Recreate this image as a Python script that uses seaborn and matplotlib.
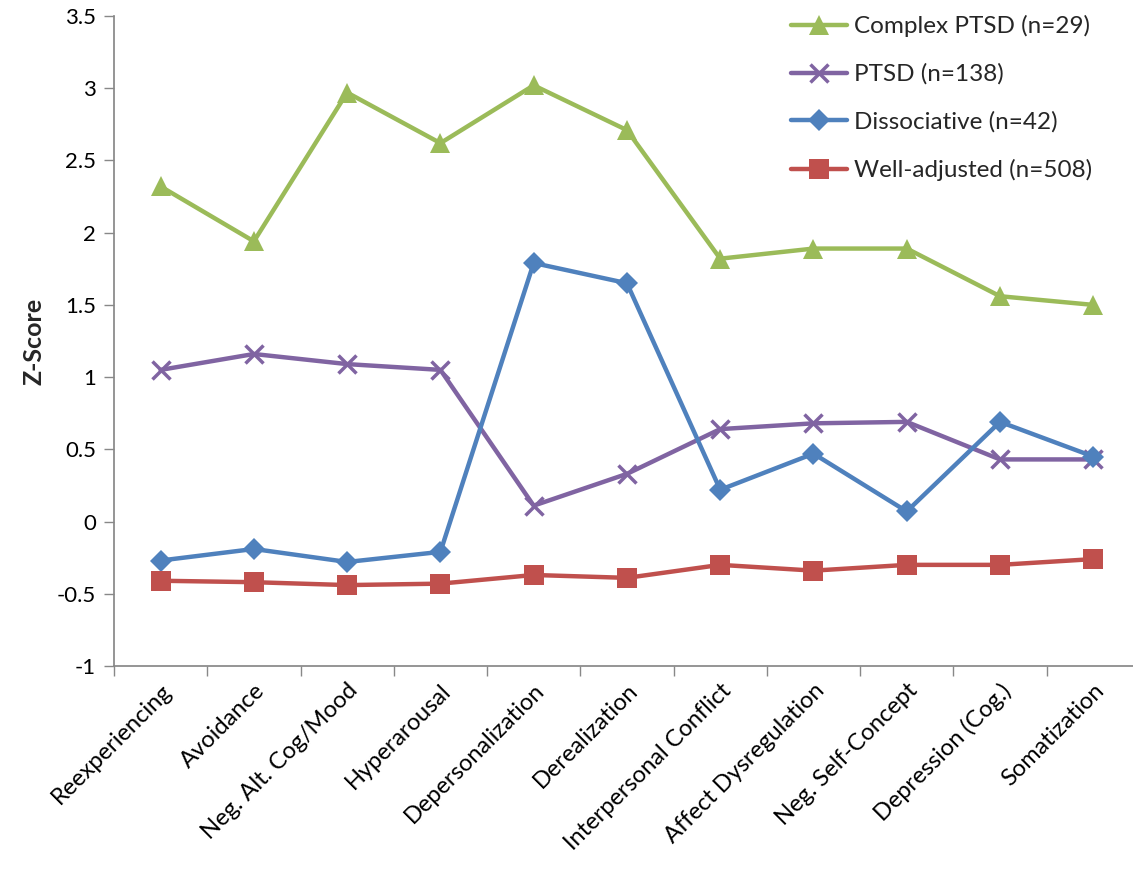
import pandas as pd
import matplotlib
matplotlib.use('Agg')
import matplotlib.pyplot as plt
import seaborn as sns

categories = ['Reexperiencing', 'Avoidance', 'Neg. Alt. Cog/Mood', 'Hyperarousal',
              'Depersonalization', 'Derealization', 'Interpersonal Conflict',
              'Affect Dysregulation', 'Neg. Self-Concept', 'Depression (Cog.)',
              'Somatization']

complex_ptsd = [2.32, 1.94, 2.97, 2.62, 3.02, 2.71, 1.82, 1.89, 1.89, 1.56, 1.50]
ptsd = [1.05, 1.16, 1.09, 1.05, 0.11, 0.33, 0.64, 0.68, 0.69, 0.43, 0.43]
dissociative = [-0.27, -0.19, -0.28, -0.21, 1.79, 1.65, 0.22, 0.47, 0.07, 0.69, 0.45]
well_adjusted = [-0.41, -0.42, -0.44, -0.43, -0.37, -0.39, -0.30, -0.34, -0.30, -0.30, -0.26]

series_names = ['Complex PTSD (n=29)', 'PTSD (n=138)', 'Dissociative (n=42)', 'Well-adjusted (n=508)']
series_values = [complex_ptsd, ptsd, dissociative, well_adjusted]

rows = []
for name, vals in zip(series_names, series_values):
    for i, v in enumerate(vals):
        rows.append({'pos': i, 'Group': name, 'Z-Score': v})
df = pd.DataFrame(rows)

sns.set_theme(style='white')
plt.rcParams['font.family'] = ['Lato', 'DejaVu Sans']

palette = {'Complex PTSD (n=29)': '#9BBB59',
           'PTSD (n=138)': '#8064A2',
           'Dissociative (n=42)': '#4F81BD',
           'Well-adjusted (n=508)': '#C0504D'}
markers = {'Complex PTSD (n=29)': '^',
           'PTSD (n=138)': 'x',
           'Dissociative (n=42)': 'D',
           'Well-adjusted (n=508)': 's'}
msize = {'Complex PTSD (n=29)': 15,
         'PTSD (n=138)': 13,
         'Dissociative (n=42)': 11,
         'Well-adjusted (n=508)': 14}

fig = plt.figure(figsize=(11.33, 8.71), dpi=100)
ax = fig.add_axes([0.1006, 0.2354, 0.9055, 0.7462])

for name in series_names:
    sub = df[df['Group'] == name]
    sns.lineplot(data=sub, x='pos', y='Z-Score', ax=ax, color=palette[name],
                 marker=markers[name], markersize=msize[name], linewidth=3.2,
                 markeredgewidth=2.5 if markers[name] == 'x' else 0,
                 markeredgecolor=palette[name], label=name)

ax.set_xlim(-0.5, 10.5)
ax.set_ylim(-1, 3.5)
ax.set_yticks([-1, -0.5, 0, 0.5, 1, 1.5, 2, 2.5, 3, 3.5])
ax.set_yticklabels(['-1', '-0.5', '0', '0.5', '1', '1.5', '2', '2.5', '3', '3.5'])
ax.set_xticks(range(len(categories)))
ax.set_xticklabels(categories, rotation=45, ha='right', rotation_mode='anchor')
ax.set_xticks([i - 0.5 for i in range(len(categories) + 1)], minor=True)
ax.tick_params(axis='x', which='major', length=0, pad=10, labelsize=17, colors='#000000')
ax.tick_params(axis='x', which='minor', length=7, width=1, color='#888888', direction='out', bottom=True)
ax.tick_params(axis='y', which='major', length=7, width=1, color='#888888', direction='out',
               left=True, labelsize=16, pad=6)
for lab in ax.get_yticklabels():
    lab.set_color('#000000')

sns.despine(ax=ax)
ax.spines['left'].set_color('#888888')
ax.spines['bottom'].set_color('#888888')
ax.set_xlabel('')
ax.set_ylabel('Z-Score', fontsize=18, fontweight='bold', labelpad=8)

leg = ax.legend(loc='upper right', bbox_to_anchor=(0.975, 1.035), frameon=False,
                fontsize=17.5, handlelength=2.3, labelspacing=1.08, handletextpad=0.3)

fig.savefig('out.png', dpi=100)
